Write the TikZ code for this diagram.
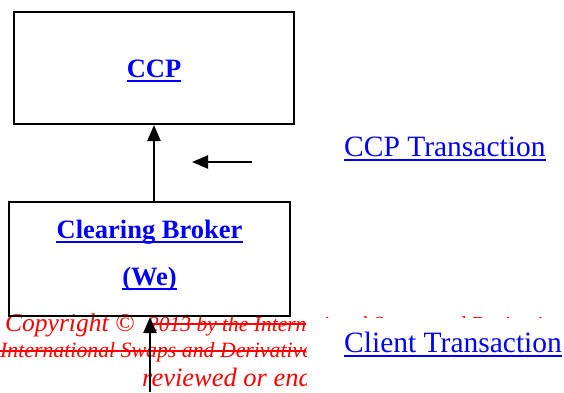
\documentclass[tikz,border=0pt]{standalone}
\usepackage{fontspec}
\setmainfont{Liberation Serif}
\usetikzlibrary{arrows.meta}
\definecolor{linkblue}{RGB}{0,0,255}
\definecolor{wmred}{RGB}{255,0,0}
\tikzset{
 box/.style={draw, line width=2pt, inner sep=0},
 conn/.style={line width=2.4pt, -{Triangle[length=16pt,width=13pt]}},
 bluebold/.style={text=linkblue, font=\fontsize{26.5}{30}\selectfont\bfseries, inner sep=0, anchor=base},
 bluereg/.style={text=linkblue, font=\fontsize{29.5}{33}\selectfont, inner sep=0, anchor=base west},
 ulline/.style={draw=linkblue, line width=2pt},
 wm/.style={text=wmred, anchor=base west, inner sep=0},
 strike/.style={draw=wmred, line width=1.3pt},
}
\begin{document}
\begin{tikzpicture}[x=1pt,y=-1pt]
\useasboundingbox (0,0) rectangle (564,392);
% watermark text (clipped)
\begin{scope}
\clip (0,300) rectangle (306,392) (306,300) rectangle (564,317);
\node[wm, font=\fontsize{25.5}{28}\selectfont\itshape] (wm1a) at (5,331) {Copyright ©};
\node[wm, font=\fontsize{21.5}{26}\selectfont\itshape] (wm1b) at (148,331) {2013 by the International Swaps and Derivatives Association, Inc.};
\draw[strike] ([yshift=7pt]wm1b.base west) -- ([yshift=7pt]wm1b.base east);
\node[wm, font=\fontsize{21.8}{24}\selectfont\itshape] (wm2) at (0,357) {International Swaps and Derivatives Association, Inc.};
\draw[strike] ([yshift=6pt]wm2.base west) -- ([yshift=6pt]wm2.base east);
\node[wm, font=\fontsize{26.5}{30}\selectfont\itshape] (wm3) at (142,386) {reviewed or endorsed};
\end{scope}
% boxes
\node[box, minimum width=280pt, minimum height=112pt] (ccp) at (154,68) {};
\node[box, minimum width=281pt, minimum height=114pt] (broker) at (149.5,259) {};
\node[bluebold] (ccptxt) at (154,77) {CCP};
\node[bluebold] (brokertxt) at (149.5,238) {Clearing Broker};
\node[bluebold] (wetxt) at (149.5,285) {(We)};
\node[bluereg] (ccptrans) at (344,156) {CCP Transaction};
\node[bluereg] (clienttrans) at (344,352) {Client Transaction};
\foreach \t in {ccptxt,brokertxt,wetxt,ccptrans,clienttrans}
  \draw[ulline] ([yshift=-3.5pt]\t.base west) -- ([yshift=-3.5pt]\t.base east);
% connectors
\draw[conn] (ccp.south |- broker.north) -- (ccp.south);
\coordinate (smallstart) at (252,162);
\coordinate (smallend) at (192,162);
\draw[conn] (smallstart) -- (smallend);
\coordinate (clientin) at (150,392);
\draw[conn] (clientin) -- (clientin |- broker.south);
\end{tikzpicture}
\end{document}
